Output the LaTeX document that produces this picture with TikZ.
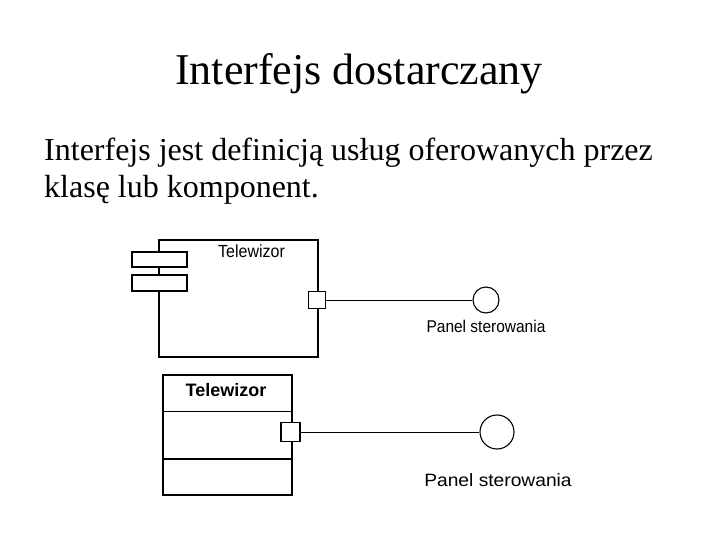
\documentclass[tikz,border=0pt]{standalone}
\usepackage{fontspec}
\setmainfont{Liberation Serif}
\newfontfamily\arialf{Liberation Sans}
\begin{document}
\begin{tikzpicture}[x=1pt,y=-1pt,
  thickline/.style={line width=2pt},
  portsq/.style={draw,fill=white,line width=1.8pt,minimum width=17pt,minimum height=17pt,inner sep=0pt},
  iface/.style={draw,circle,line width=1.1pt,inner sep=0pt},
  txt/.style={inner sep=0pt}]
\useasboundingbox (0,0) rectangle (720,540);
% title and text
\node[txt,anchor=base] (title) at (359,85) {\fontsize{44}{52}\selectfont Interfejs dostarczany};
\node[txt,anchor=base west] (l1) at (44,161) {\fontsize{32}{37}\selectfont Interfejs jest definicją usług oferowanych przez};
\node[txt,anchor=base west] (l2) at (44,198) {\fontsize{32}{37}\selectfont klasę lub komponent.};
% component
\draw[thickline] (159,240) rectangle (318,357);
\draw[line width=1.4pt,fill=white] (132,252) rectangle (187,267);
\draw[line width=1.4pt,fill=white] (132,275) rectangle (187,291);
\node[txt] (ct) at (251.5,251) {\arialf\fontsize{16}{18}\selectfont\scalebox{1}[1.1]{Telewizor}};
\node[portsq] (p1) at (317,300) {};
\node[iface,minimum size=26pt] (c1) at (486,300) {};
\draw[line width=1pt] (p1.east) -- (c1.west);
\node[txt] (lab1) at (486,326) {\arialf\fontsize{15.5}{18}\selectfont\scalebox{1}[1.1]{Panel sterowania}};
% class
\draw[line width=1.3pt] (163,375) rectangle (292,495);
\draw[line width=1.1pt] (163,411.5) -- (292,411.5);
\draw[thickline] (163,459) -- (292,459);
\node[txt] (kt) at (226,390) {\arialf\bfseries\fontsize{18}{21}\selectfont Telewizor};
\node[portsq,minimum width=19pt,minimum height=19pt] (p2) at (290.5,432) {};
\node[iface,minimum size=34pt] (c2) at (497,432) {};
\draw[line width=1pt] (p2.east) -- (c2.west);
\node[txt] (lab2) at (498,480) {\arialf\fontsize{17}{20}\selectfont\scalebox{1.13}[1.05]{Panel sterowania}};
\end{tikzpicture}
\end{document}
